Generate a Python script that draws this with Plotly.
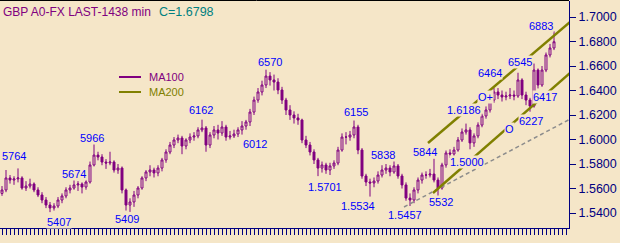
import plotly.graph_objects as go

# ---------------- data ----------------
opens = [1.5560,1.5588,1.5686,1.5669,1.5678,1.5686,1.5604,1.5620,1.5637,1.5588,
         1.5547,1.5506,1.5465,1.5441,1.5457,1.5506,1.5539,1.5588,1.5604,1.5629,
         1.5637,1.5612,1.5653,1.5792,1.5873,1.5857,1.5816,1.5808,1.5816,1.5751,
         1.5767,1.5588,1.5465,1.5490,1.5547,1.5604,1.5686,1.5735,1.5751,1.5727,
         1.5767,1.5833,1.5898,1.5955,1.5996,1.6012,1.5947,1.5996,1.6020,1.6029,
         1.6078,1.6094,1.5955,1.6037,1.6078,1.6053,1.6102,1.6020,1.6029,1.6045,
         1.6078,1.6110,1.6143,1.6224,1.6322,1.6388,1.6445,1.6518,1.6486,1.6469,
         1.6404,1.6322,1.6241,1.6200,1.6176,1.6159,1.5996,1.5955,1.5898,1.5833,
         1.5767,1.5792,1.5751,1.5784,1.5808,1.5914,1.6020,1.6020,1.6037,1.6102,
         1.5914,1.5702,1.5653,1.5645,1.5661,1.5710,1.5751,1.5767,1.5735,1.5784,
         1.5702,1.5629,1.5522,1.5506,1.5588,1.5669,1.5710,1.5710,1.5718,1.5669,
         1.5604,1.5792,1.5890,1.5882,1.5914,1.5996,1.6061,1.6078,1.5972,1.6029,
         1.6118,1.6192,1.6241,1.6322,1.6388,1.6363,1.6347,1.6355,1.6363,1.6355,
         1.6486,1.6363,1.6322,1.6273,1.6567,1.6445,1.6567,1.6690,1.6747]
highs = [1.5620,1.5751,1.5710,1.5700,1.5764,1.5700,1.5660,1.5680,1.5650,1.5610,
         1.5570,1.5530,1.5490,1.5480,1.5530,1.5560,1.5610,1.5630,1.5674,1.5660,
         1.5650,1.5670,1.5820,1.5966,1.5900,1.5880,1.5840,1.5900,1.5830,1.5800,
         1.5780,1.5600,1.5520,1.5580,1.5620,1.5700,1.5750,1.5790,1.5770,1.5790,
         1.5850,1.5920,1.5980,1.6020,1.6040,1.6030,1.6010,1.6050,1.6060,1.6100,
         1.6162,1.6110,1.6060,1.6110,1.6120,1.6150,1.6120,1.6070,1.6080,1.6100,
         1.6150,1.6160,1.6250,1.6350,1.6420,1.6480,1.6570,1.6550,1.6530,1.6500,
         1.6430,1.6340,1.6280,1.6230,1.6210,1.6170,1.6030,1.5980,1.5920,1.5850,
         1.5820,1.5810,1.5810,1.5830,1.5940,1.6050,1.6060,1.6070,1.6155,1.6120,
         1.5930,1.5720,1.5680,1.5690,1.5740,1.5790,1.5800,1.5790,1.5838,1.5800,
         1.5720,1.5650,1.5560,1.5610,1.5690,1.5730,1.5740,1.5760,1.5844,1.5690,
         1.5810,1.5910,1.5920,1.5940,1.6020,1.6090,1.6130,1.6100,1.6050,1.6140,
         1.6210,1.6270,1.6350,1.6420,1.6420,1.6400,1.6390,1.6420,1.6400,1.6545,
         1.6500,1.6390,1.6340,1.6620,1.6580,1.6600,1.6710,1.6780,1.6883]
lows = [1.5540,1.5570,1.5640,1.5630,1.5650,1.5590,1.5580,1.5600,1.5570,1.5530,
        1.5480,1.5440,1.5407,1.5420,1.5440,1.5480,1.5520,1.5560,1.5590,1.5580,
        1.5560,1.5590,1.5640,1.5780,1.5830,1.5790,1.5760,1.5790,1.5730,1.5720,
        1.5560,1.5420,1.5409,1.5450,1.5520,1.5590,1.5660,1.5700,1.5690,1.5700,
        1.5740,1.5810,1.5880,1.5930,1.5970,1.5880,1.5920,1.5970,1.5990,1.6010,
        1.6060,1.5900,1.5930,1.6010,1.6000,1.6030,1.5990,1.6000,1.6012,1.6020,
        1.6040,1.6080,1.6110,1.6200,1.6300,1.6360,1.6420,1.6440,1.6400,1.6370,
        1.6290,1.6200,1.6160,1.6130,1.6120,1.5970,1.5930,1.5870,1.5800,1.5701,
        1.5730,1.5720,1.5710,1.5760,1.5790,1.5900,1.5960,1.5990,1.6010,1.5880,
        1.5680,1.5620,1.5534,1.5610,1.5640,1.5690,1.5720,1.5700,1.5720,1.5680,
        1.5600,1.5500,1.5457,1.5480,1.5560,1.5640,1.5680,1.5690,1.5650,1.5532,
        1.5590,1.5770,1.5850,1.5860,1.5900,1.5980,1.6040,1.5920,1.5940,1.6010,
        1.6100,1.6170,1.6220,1.6300,1.6330,1.6310,1.6320,1.6330,1.6320,1.6340,
        1.6330,1.6280,1.6227,1.6260,1.6417,1.6430,1.6550,1.6670,1.6730]
closes = [1.5588,1.5686,1.5669,1.5678,1.5686,1.5604,1.5620,1.5637,1.5588,1.5547,
          1.5506,1.5465,1.5441,1.5457,1.5506,1.5539,1.5588,1.5604,1.5629,1.5637,
          1.5612,1.5653,1.5792,1.5873,1.5857,1.5816,1.5808,1.5816,1.5751,1.5767,
          1.5588,1.5465,1.5490,1.5547,1.5604,1.5686,1.5735,1.5751,1.5727,1.5767,
          1.5833,1.5898,1.5955,1.5996,1.6012,1.5947,1.5996,1.6020,1.6029,1.6078,
          1.6094,1.5955,1.6037,1.6078,1.6053,1.6102,1.6020,1.6029,1.6045,1.6078,
          1.6110,1.6143,1.6224,1.6322,1.6388,1.6445,1.6518,1.6486,1.6469,1.6404,
          1.6322,1.6241,1.6200,1.6176,1.6159,1.5996,1.5955,1.5898,1.5833,1.5767,
          1.5792,1.5751,1.5784,1.5808,1.5914,1.6020,1.6020,1.6037,1.6102,1.5914,
          1.5702,1.5653,1.5645,1.5661,1.5710,1.5751,1.5767,1.5735,1.5784,1.5702,
          1.5629,1.5522,1.5506,1.5588,1.5669,1.5710,1.5710,1.5718,1.5669,1.5604,
          1.5792,1.5890,1.5882,1.5914,1.5996,1.6061,1.6078,1.5972,1.6029,1.6118,
          1.6192,1.6241,1.6322,1.6388,1.6363,1.6347,1.6355,1.6363,1.6355,1.6486,
          1.6363,1.6322,1.6273,1.6567,1.6445,1.6567,1.6690,1.6747,1.6798]
bars = list(range(len(closes)))

# trend lines: (bar index, price) end points
upper_x = [106.5, 142.0]
upper_y = [1.5971, 1.6959]
lower_x = [107.75, 142.0]
lower_y = [1.5563, 1.6543]
dash_x = [100.5, 142.0]
dash_y = [1.5449, 1.6166]

# labels: text, bar index, price
label_text = ["5764", "5407", "5674", "5966", "5409", "6162", "6570", "6012",
              "6155", "1.5701", "5838", "1.5534", "1.5457", "5844", "5532",
              "1.5000", "1.6186", "O+", "6464", "O", "6227", "6417", "6545", "6883"]
label_x = [3.1, 14.25, 18.0, 22.5, 31.25, 49.75, 67.0, 63.25,
           88.5, 80.75, 95.25, 89.0, 100.75, 105.75, 109.75,
           116.25, 115.5, 120.75, 122.0, 126.75, 132.25, 135.75, 129.5, 134.75]
label_y = [1.5865, 1.5327, 1.5718, 1.6012, 1.5351, 1.6241, 1.6633, 1.5963,
           1.6224, 1.5612, 1.5873, 1.5457, 1.5384, 1.5898, 1.5490,
           1.5816, 1.6241, 1.6347, 1.6543, 1.6086, 1.6151, 1.6347, 1.6633, 1.6927]

y_ticks = [1.54, 1.56, 1.58, 1.60, 1.62, 1.64, 1.66, 1.68, 1.70]

# ---------------- style ----------------
BG = "#F5E6C8"
PURPLE = "#800080"
OLIVE = "#808000"
BLUE = "#0000FF"
NAVY = "#000080"
FONT = "Liberation Sans, Arial, sans-serif"

W, H = 620, 243
ML, MR, MT, MB = 0, 51, 1, 15
PW, PH = W - ML - MR, H - MT - MB

fig = go.Figure()

fig.add_trace(go.Scatter(x=dash_x, y=dash_y, mode="lines",
                         line=dict(color="#8C8C8C", width=1.5, dash="4px,3px"),
                         hoverinfo="skip", showlegend=False))
fig.add_trace(go.Scatter(x=upper_x, y=upper_y, mode="lines",
                         line=dict(color=OLIVE, width=2.5),
                         hoverinfo="skip", showlegend=False))
fig.add_trace(go.Scatter(x=lower_x, y=lower_y, mode="lines",
                         line=dict(color=OLIVE, width=2.5),
                         hoverinfo="skip", showlegend=False))

fig.add_trace(go.Candlestick(
    x=bars, open=opens, high=highs, low=lows, close=closes,
    increasing=dict(line=dict(color=PURPLE, width=1), fillcolor=BG),
    decreasing=dict(line=dict(color=PURPLE, width=1), fillcolor=PURPLE),
    whiskerwidth=0, showlegend=False, hoverinfo="skip"))

annotations = []
for t, xx, yy in zip(label_text, label_x, label_y):
    annotations.append(dict(x=xx, y=yy, xref="x", yref="y", text=t, showarrow=False,
                            xanchor="center", yanchor="middle",
                            font=dict(family=FONT, size=11, color=BLUE),
                            bgcolor=BG, borderpad=0))

def px_x(p):
    return (p - ML) / PW

def px_y(p):
    return (MT + PH - p) / PH

# title
annotations.append(dict(x=px_x(1), y=px_y(12), xref="paper", yref="paper",
                        text="GBP A0-FX LAST-1438 min", showarrow=False,
                        xanchor="left", yanchor="middle",
                        font=dict(family=FONT, size=12, color=PURPLE)))
annotations.append(dict(x=px_x(157), y=px_y(12), xref="paper", yref="paper",
                        text="C=1.6798", showarrow=False,
                        xanchor="left", yanchor="middle",
                        font=dict(family=FONT, size=12.5, color="#008080")))
# legend
legend_items = [("MA100", PURPLE, 77), ("MA200", OLIVE, 92)]
shapes = []
for name, col, yy in legend_items:
    shapes.append(dict(type="line", xref="paper", yref="paper",
                       x0=px_x(119), x1=px_x(141), y0=px_y(yy), y1=px_y(yy),
                       line=dict(color=col, width=2)))
    annotations.append(dict(x=px_x(147), y=px_y(yy), xref="paper", yref="paper",
                            text=name, showarrow=False, xanchor="left", yanchor="middle",
                            font=dict(family=FONT, size=11, color=col)))
# top border
shapes.append(dict(type="line", xref="paper", yref="paper",
                   x0=0, x1=1, y0=px_y(0.5), y1=px_y(0.5),
                   line=dict(color="black", width=1)))

fig.update_layout(
    width=W, height=H,
    margin=dict(l=ML, r=MR, t=MT, b=MB, pad=0),
    paper_bgcolor=BG, plot_bgcolor=BG,
    showlegend=False,
    annotations=annotations, shapes=shapes,
    xaxis=dict(range=[-0.5, 141.75], showgrid=False, zeroline=False,
               showline=True, linecolor=NAVY, linewidth=1,
               ticks="outside", tickmode="linear", tick0=0, dtick=1,
               ticklen=6, tickwidth=1, tickcolor=NAVY, showticklabels=False,
               rangeslider=dict(visible=False), fixedrange=True),
    yaxis=dict(range=[1.52776, 1.71306], side="right", showgrid=False, zeroline=False,
               showline=True, linecolor=NAVY, linewidth=1,
               ticks="outside", ticklen=6, tickwidth=1, tickcolor=NAVY,
               tickvals=y_ticks, ticktext=[f"{v:.4f}" for v in y_ticks],
               tickfont=dict(family=FONT, size=12.5, color=NAVY), fixedrange=True),
)

fig.write_html("out.html", config={"displayModeBar": False})
